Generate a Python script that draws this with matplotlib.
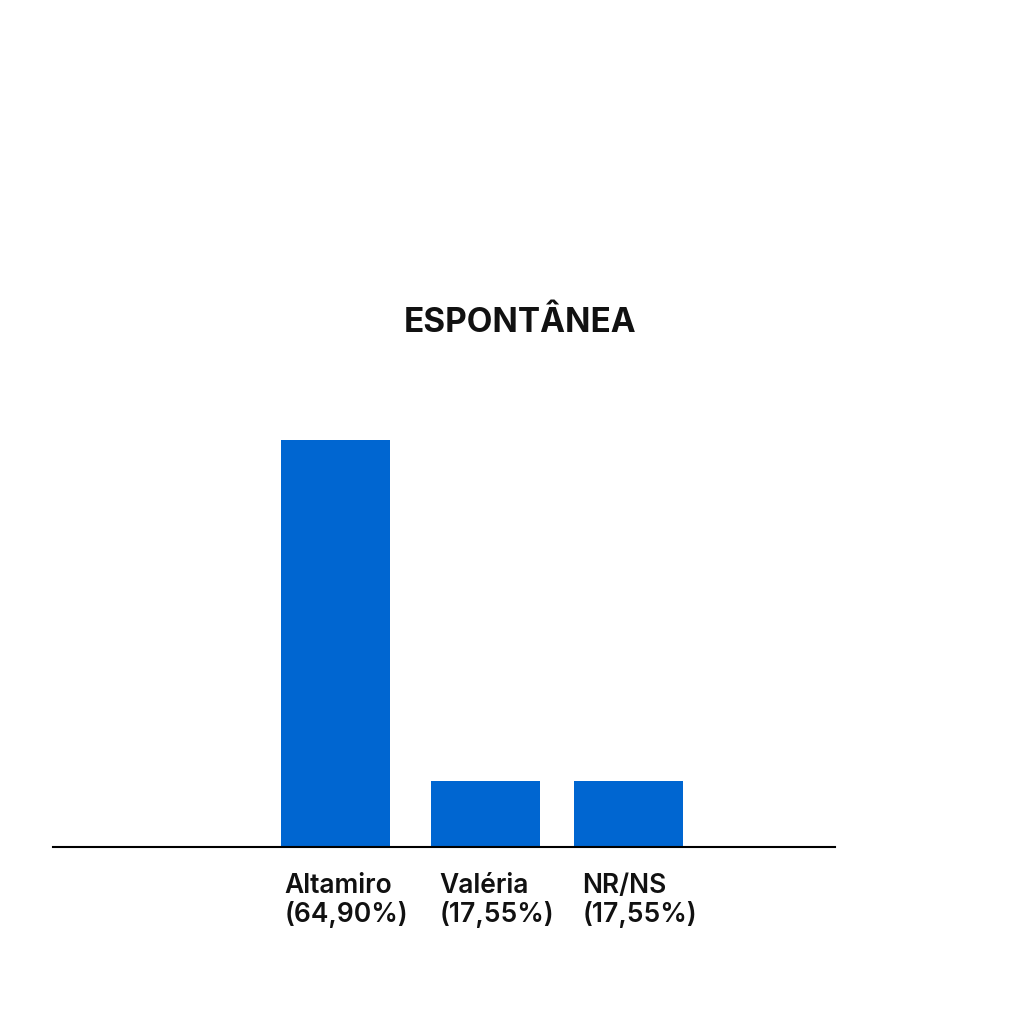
import matplotlib
matplotlib.use("Agg")
import matplotlib.pyplot as plt
from matplotlib.transforms import offset_copy

# Dados
candidatos = ["Altamiro", "Valéria", "NR/NS"]
rotulos_pct = ["(64,90%)", "(17,55%)", "(17,55%)"]
alturas = [64.90, 10.55, 10.55]   # altura visível das barras

plt.rcParams['font.family'] = ['Inter', 'DejaVu Sans']

fig = plt.figure(figsize=(10.24, 10.24), dpi=100)
ax = fig.add_axes([53 / 1024, 177 / 1024, 782 / 1024, 407 / 1024])

# posições das barras (espaçamento levemente irregular, como no original)
pos = [0, 1.024, 2]
ax.bar(pos, alturas, width=0.744, color="#0066d1")

ax.set_xlim(-1.928, 3.41)
ax.set_ylim(0, 64.9)

for s in ["top", "right", "left"]:
    ax.spines[s].set_visible(False)
ax.spines["bottom"].set_linewidth(1.5)
ax.spines["bottom"].set_color("black")
ax.set_xticks([])
ax.set_yticks([])

# Rótulos de categoria abaixo das barras
trans = offset_copy(ax.get_xaxis_transform(), fig=fig, x=8, y=-19, units="points")
for x, nome, pct in zip(pos, candidatos, rotulos_pct):
    ax.text(x, 0, nome + "\n" + pct, transform=trans, ha="center", va="top",
            multialignment="left", fontsize=19, fontweight="semibold",
            linespacing=1.1, color="#111111")

fig.text(520 / 1024, 1 - 323 / 1024, "ESPONTÂNEA", ha="center", va="center",
         fontsize=24, fontweight="bold", color="#111111")

fig.savefig("out.png", dpi=100, facecolor="white")
